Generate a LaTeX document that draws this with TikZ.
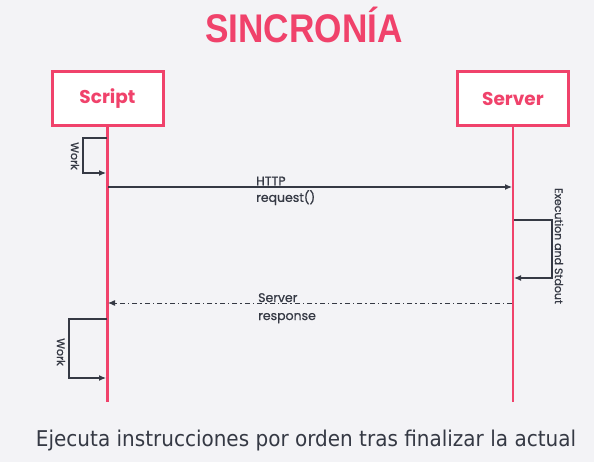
\documentclass[tikz,border=0pt]{standalone}
\usepackage{fontspec}
\setmainfont{Poppins}
\setsansfont{Poppins}
\newfontfamily\titlefont{Liberation Sans}
\newfontfamily\capfont{DejaVu Sans}
\newfontface\medfont[FakeBold=0.8]{Poppins}
\usetikzlibrary{arrows.meta}
\definecolor{bg}{HTML}{F3F3F6}
\definecolor{pinkc}{HTML}{F0426B}
\definecolor{ink}{HTML}{353944}
\begin{document}
\begin{tikzpicture}[x=1pt,y=-1pt,
  actor/.style={draw=pinkc,line width=3pt,fill=white,minimum width=111pt,minimum height=54pt,
    font=\fontsize{18.5}{21}\selectfont\bfseries,text=pinkc},
  life/.style={draw=pinkc,line width=2.5pt},
  msg/.style={draw=ink,line width=1.1pt,-{Latex[length=7pt,width=6pt]}},
  lbl/.style={font=\medfont\fontsize{12.5}{14}\selectfont,text=ink,inner sep=0pt},
  vlbl/.style={font=\medfont\fontsize{11}{13}\selectfont,text=ink,inner sep=0pt,rotate=-90}]
\useasboundingbox[fill=bg] (0,0) rectangle (594,462);
\node[text=pinkc,inner sep=0pt] (title) at (304,25) {\scalebox{0.88}[1]{\titlefont\fontsize{40}{44}\selectfont\bfseries SINCRONÍA}};
\node[actor] (script) at (107.5,99) {Script};
\node[actor] (server) at (513,99) {Server};
\coordinate (sbot) at (107.5,402);
\coordinate (vbot) at (513,402);
\draw[life] (script.south) -- (sbot);
\draw[life] (server.south) -- (vbot);
% work 1
\coordinate (w1a) at (107,138);
\coordinate (w1b) at (106,173);
\draw[msg] (w1a) -- (83,138) -- (83,173) -- (w1b);
\node[vlbl] (work1) at (75,156) {Work};
% HTTP request
\coordinate (h1) at (108,187);
\coordinate (h2) at (512,187);
\draw[msg] (h1) -- (h2);
\node[lbl,anchor=south west] (http) at (256,185.5) {HTTP};
\node[lbl,anchor=north west] (req) at (256,190) {request()};
% execution
\coordinate (e1) at (514,220);
\coordinate (e2) at (514,278);
\draw[msg] (e1) -- (552,220) -- (552,278) -- (e2);
\node[vlbl] (exec) at (559,246) {Execution and Stdout};
% response
\coordinate (r1) at (512,303);
\coordinate (r2) at (108,303);
\draw[msg,dash pattern=on 5pt off 3pt on 1.5pt off 3pt,line width=1pt] (r1) -- (r2);
\node[lbl,anchor=base west] (srv) at (258,302) {Server};
\node[lbl,anchor=base west] (resp) at (258,320) {response};
% work 2
\coordinate (w2a) at (107,319);
\coordinate (w2b) at (106,378);
\draw[msg] (w2a) -- (69,319) -- (69,378) -- (w2b);
\node[vlbl] (work2) at (61,352) {Work};
% bottom
\node[text=ink,inner sep=0pt,anchor=base] (caption) at (306,446) {\resizebox{540pt}{16.5pt}{\capfont\fontsize{18}{20}\selectfont Ejecuta instrucciones por orden tras finalizar la actual}};
\end{tikzpicture}
\end{document}
